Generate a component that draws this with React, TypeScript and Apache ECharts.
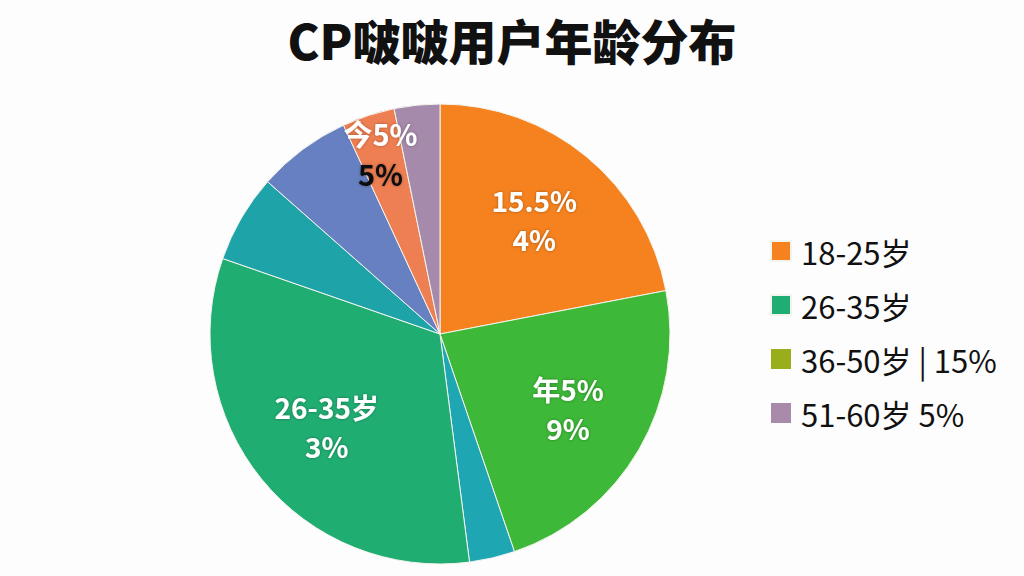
import React, { useEffect, useRef } from "react";
import * as echarts from "echarts";

const titleText = "CP啵啵用户年龄分布";

const sliceNames = ["18-25岁", "26-35岁a", "26-35岁b", "26-35岁", "36-50岁", "41-50岁", "51-60岁a", "51-60岁"];
const sliceValues = [22.0, 22.8, 3.2, 32.4, 6.2, 6.6, 3.7, 3.2];
const sliceColors = ["#f5821f", "#3db838", "#1fa6b3", "#20ad72", "#1ea3a8", "#6680c2", "#ee7f52", "#a68aab"];
const sliceLabels = ["15.5%\n4%", "年5%\n9%", "", "26-35岁\n3%", "", "", "", ""];
const topLabelWhite = "今5%";
const topLabelBlack = "5%";

const legendNames = ["18-25岁", "26-35岁", "36-50岁 | 15%", "51-60岁 5%"];
const legendColors = ["#f28020", "#1aa597", "#9aad1a", "#a88aaa"];

const FONT = "'Noto Sans CJK SC', 'Noto Sans', sans-serif";

export default function App() {
  const ref = useRef<HTMLDivElement>(null);
  useEffect(() => {
    if (!ref.current) return;
    const chart = echarts.init(ref.current, undefined, { renderer: "svg" });
    const center = [440, 334];
    const R = 230;
    const labelStyle = {
      show: true,
      position: "inside",
      color: "#fff",
      fontSize: 28,
      fontWeight: "bold",
      lineHeight: 39,
      fontFamily: FONT,
      textShadowColor: "rgba(0,0,0,0.35)",
      textShadowBlur: 3,
    };
    const labelSeries = (r0: number, pick: (i: number) => string, rich?: any) => ({
      type: "pie",
      silent: true,
      center,
      radius: [r0, R],
      startAngle: 90,
      clockwise: true,
      animation: false,
      itemStyle: { color: "transparent", borderWidth: 0 },
      labelLine: { show: false },
      emphasis: { disabled: true },
      label: rich ? { rich } : undefined,
      data: sliceNames.map((n, i) => ({
        name: n + "_l" + r0,
        value: sliceValues[i],
        label: { ...labelStyle, formatter: pick(i) || "", show: !!pick(i) },
      })),
    });
    const topRich = {
      w: { color: "#fff", fontSize: 29, fontWeight: "bold", lineHeight: 40, fontFamily: FONT, textShadowColor: "rgba(0,0,0,0.35)", textShadowBlur: 3 },
      b: { color: "#111", fontSize: 29, fontWeight: "bold", lineHeight: 40, fontFamily: FONT },
    };
    chart.setOption({
      animation: false,
      backgroundColor: "#fdfdfd",
      title: {
        text: titleText,
        left: "center",
        top: 10,
        textStyle: { fontSize: 48, fontWeight: 900, color: "#111", fontFamily: FONT },
      },
      legend: {
        orient: "vertical",
        left: 770,
        top: 234,
        padding: 0,
        itemWidth: 20,
        itemHeight: 20,
        itemGap: 20,
        icon: "rect",
        selectedMode: false,
        data: legendNames,
        textStyle: { fontSize: 31, lineHeight: 34, color: "#111", fontFamily: FONT, padding: [0, 0, 0, 5] },
      },
      series: [
        {
          type: "pie",
          center,
          radius: [0, R],
          startAngle: 90,
          clockwise: true,
          silent: true,
          label: { show: false },
          labelLine: { show: false },
          itemStyle: { borderColor: "#f4f4ee", borderWidth: 1 },
          data: sliceNames.map((n, i) => ({ name: n, value: sliceValues[i], itemStyle: { color: sliceColors[i] } })),
        },
        labelSeries(60, (i) => (i === 0 || i === 1 ? sliceLabels[i] : "")),
        labelSeries(56, (i) => (i === 3 ? sliceLabels[i] : "")),
        labelSeries(146, (i) => (i === 6 ? "{w|" + topLabelWhite + "}\n{b|" + topLabelBlack + "}" : ""), topRich),
        {
          type: "pie",
          silent: true,
          radius: [0, 0],
          center: [-100, -100],
          label: { show: false },
          labelLine: { show: false },
          data: legendNames.map((n, i) => ({ name: n, value: 1, itemStyle: { color: legendColors[i] } })),
        },
      ],
    });
    return () => chart.dispose();
  }, []);
  return <div ref={ref} style={{ position: "fixed", left: 0, top: 0, width: 1024, height: 576 }} />;
}
